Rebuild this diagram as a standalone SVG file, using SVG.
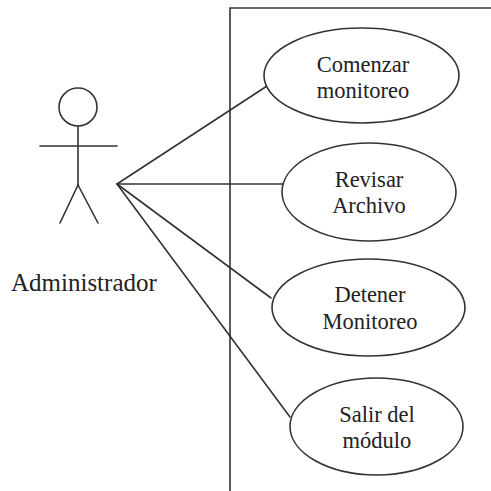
<svg xmlns="http://www.w3.org/2000/svg" width="491" height="491" viewBox="0 0 491 491">
  <style>
    .ln { stroke: #333; stroke-width: 1.6; fill: none; stroke-linecap: round; }
    .uc { stroke: #333; stroke-width: 1.6; fill: #fff; }
    .tx { font-family: 'Liberation Serif', 'Times New Roman', serif; font-size: 22.5px; fill: #222; text-anchor: middle; }
    .lbl { font-family: 'Liberation Serif', 'Times New Roman', serif; font-size: 25px; fill: #222; }
  </style>
  <rect width="491" height="491" fill="#fff"/>

  <!-- system boundary -->
  <g id="system">
    <path class="ln" d="M230,491 V8 H491"/>
  </g>

  <!-- associations -->
  <g id="connectors">
    <line class="ln" x1="117" y1="184" x2="267" y2="86"/>
    <line class="ln" x1="117" y1="184" x2="283" y2="184"/>
    <line class="ln" x1="117" y1="184" x2="271" y2="298"/>
    <line class="ln" x1="117" y1="184" x2="290" y2="417"/>
  </g>

  <!-- actor -->
  <g id="actor">
    <circle class="ln" cx="78" cy="107" r="19"/>
    <line class="ln" x1="78" y1="126" x2="78" y2="185"/>
    <line class="ln" x1="40" y1="146" x2="117" y2="146"/>
    <line class="ln" x1="78" y1="185" x2="60" y2="223"/>
    <line class="ln" x1="78" y1="185" x2="98" y2="223"/>
    <text class="lbl" x="11" y="291">Administrador</text>
  </g>

  <g id="uc-comenzar">
    <ellipse class="uc" cx="361.5" cy="75.5" rx="97.5" ry="47.5"/>
    <text class="tx" x="363" y="72">Comenzar</text>
    <text class="tx" x="363" y="98">monitoreo</text>
  </g>

  <g id="uc-revisar">
    <ellipse class="uc" cx="369" cy="192" rx="87" ry="49"/>
    <text class="tx" x="369" y="187">Revisar</text>
    <text class="tx" x="369" y="213">Archivo</text>
  </g>

  <g id="uc-detener">
    <ellipse class="uc" cx="368.5" cy="307.5" rx="96.5" ry="48.5"/>
    <text class="tx" x="370" y="302">Detener</text>
    <text class="tx" x="370" y="329">Monitoreo</text>
  </g>

  <g id="uc-salir">
    <ellipse class="uc" cx="376.5" cy="426.5" rx="86.5" ry="48.5"/>
    <text class="tx" x="377" y="422">Salir del</text>
    <text class="tx" x="377" y="448">módulo</text>
  </g>
</svg>
